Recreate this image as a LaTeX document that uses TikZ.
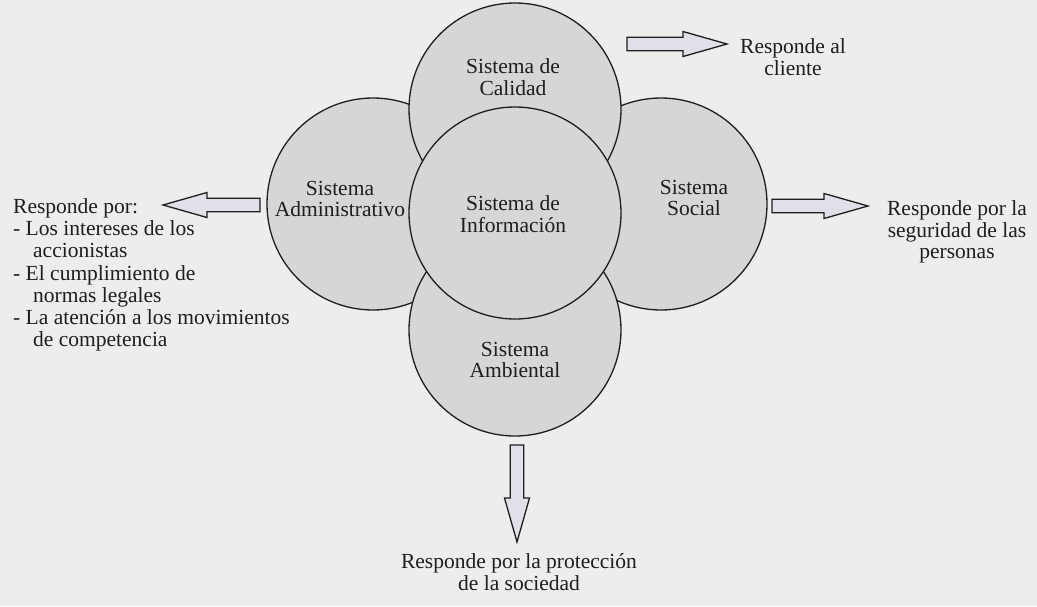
\documentclass[tikz,border=0pt]{standalone}
\usepackage{fontspec}
\setmainfont{Liberation Serif}
\usetikzlibrary{calc}

\definecolor{fondo}{RGB}{237,237,237}
\definecolor{relleno}{RGB}{214,214,214}
\definecolor{flechagris}{RGB}{224,224,232}
\definecolor{tinta}{RGB}{30,30,30}

\tikzset{
  sistema/.style={circle, draw=tinta, line width=1.3pt, fill=relleno, minimum size=212pt, inner sep=0pt},
  rotulo/.style={text=tinta, align=center, inner sep=0pt, font=\fontsize{21.5}{21.8}\selectfont},
  flecha/.style={draw=tinta, line width=1.3pt, fill=flechagris, line join=miter}
}

% hollow block arrow from #1 to #2
\newcommand{\bloque}[2]{%
  \draw[flecha] let \p1 = ($(#2)-(#1)$), \n1 = {atan2(\y1,\x1)}, \n2 = {veclen(\x1,\y1)} in
    [shift={(#1)}, rotate=\n1] (0,-6.8) -- ({\n2-44},-6.8) -- ({\n2-44},-12.5) -- (\n2,0)
    -- ({\n2-44},12.5) -- ({\n2-44},6.8) -- (0,6.8) -- cycle;}

\begin{document}
\begin{tikzpicture}[x=1pt, y=-1pt]
    \useasboundingbox (0,0) rectangle (1037,606);
    \fill[fondo] (0,0) rectangle (1037,606);

    % Draw circles
    \node[sistema] (adm) at (373,204) {};
    \node[sistema] (soc) at (661,204) {};
    \node[sistema] (cal) at (515,109) {};
    \node[sistema] (amb) at (515,330) {};
    \node[sistema] (inf) at (515,213) {};

    % Circle labels
    \node[rotulo] (caltxt) at (513,77) {Sistema de\\Calidad};
    \node[rotulo] (admtxt) at (340,199) {Sistema\\Administrativo};
    \node[rotulo] (inftxt) at (513,214) {Sistema de\\Información};
    \node[rotulo] (soctxt) at (694,198) {Sistema\\Social};
    \node[rotulo] (ambtxt) at (515,360) {Sistema\\Ambiental};

    % Draw answers
    \node[rotulo] (cli) at (793,57) {Responde al\\cliente};
    \node[rotulo] (seg) at (957,232) {Responde por la\\seguridad de las\\personas};
    \node[rotulo] (prot) at (519,572) {Responde por la protección\\de la sociedad};
    \node[rotulo, align=left, anchor=west, font=\fontsize{21.5}{22.2}\selectfont] (acc) at (13,275)
      {Responde por:\\- Los intereses de los\\\hspace*{20pt}accionistas\\- El cumplimiento de\\\hspace*{20pt}normas legales\\- La atención a los movimientos\\\hspace*{20pt}de competencia};

    % Draw arrows
    \coordinate (calde) at (627,44);
    \coordinate (calhasta) at (727,44);
    \coordinate (admde) at (260,205);
    \coordinate (admhasta) at (163,205);
    \coordinate (socde) at (772,206);
    \coordinate (sochasta) at (868,206);
    \coordinate (ambde) at (517,445);
    \coordinate (ambhasta) at (517,542);
    \bloque{calde}{calhasta}
    \bloque{admde}{admhasta}
    \bloque{socde}{sochasta}
    \bloque{ambde}{ambhasta}
\end{tikzpicture}
\end{document}
